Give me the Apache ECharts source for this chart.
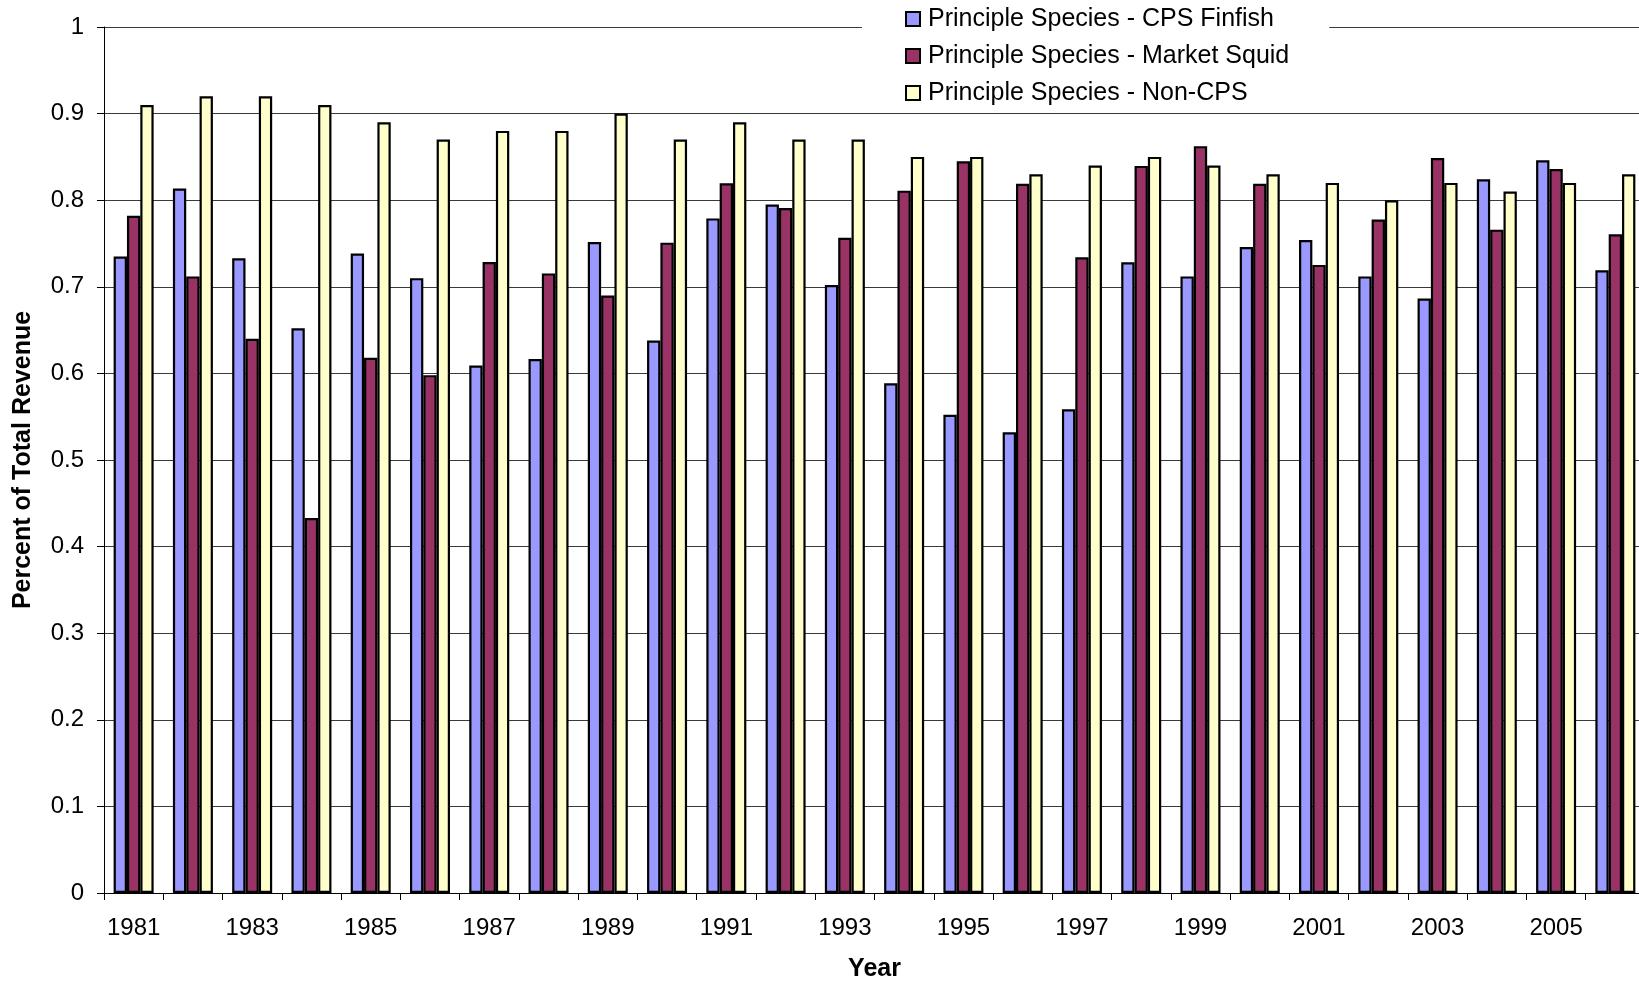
<!DOCTYPE html>
<html>
<head>
<meta charset="utf-8">
<script src="https://cdn.jsdelivr.net/npm/echarts@6/dist/echarts.min.js"></script>
<style>
html,body{margin:0;padding:0;background:#fff;}
#chart{width:1639px;height:983px;}
</style>
</head>
<body>
<div id="chart"></div>
<script>
const years = ['1981','1982','1983','1984','1985','1986','1987','1988','1989','1990','1991','1992','1993','1994','1995','1996','1997','1998','1999','2000','2001','2002','2003','2004','2005','2006'];
const cpsFinfish = [0.735, 0.8135, 0.733, 0.652, 0.7385, 0.710, 0.609, 0.6166, 0.7516, 0.638, 0.779, 0.795, 0.702, 0.5885, 0.5523, 0.5319, 0.5585, 0.7284, 0.712, 0.746, 0.754, 0.712, 0.6864, 0.8242, 0.8462, 0.719];
const marketSquid = [0.782, 0.712, 0.640, 0.433, 0.618, 0.598, 0.7285, 0.7155, 0.690, 0.751, 0.8196, 0.791, 0.7566, 0.811, 0.845, 0.819, 0.734, 0.8396, 0.8624, 0.819, 0.7253, 0.7776, 0.8488, 0.766, 0.8361, 0.7607];
const nonCps = [0.91, 0.92, 0.92, 0.91, 0.89, 0.87, 0.88, 0.88, 0.90, 0.87, 0.89, 0.87, 0.87, 0.85, 0.85, 0.83, 0.84, 0.85, 0.84, 0.83, 0.82, 0.80, 0.82, 0.81, 0.82, 0.83];
const seriesNames = ['Principle Species - CPS Finfish', 'Principle Species - Market Squid', 'Principle Species - Non-CPS'];

const FONT = '"Liberation Sans", Arial, sans-serif';
const chart = echarts.init(document.getElementById('chart'), null, {renderer: 'canvas'});
function bar(name, data, color) {
  return {
    name: name, type: 'bar', data: data,
    barGap: '0%', barCategoryGap: '32.5%',
    itemStyle: {color: color, borderColor: '#000', borderWidth: 2.2},
    animation: false
  };
}
chart.setOption({
  backgroundColor: '#fff',
  animation: false,
  textStyle: {fontFamily: FONT, color: '#000'},
  grid: {left: 104, top: 27, width: 1541, height: 866, containLabel: false, outerBoundsMode: 'none'},
  legend: {
    orient: 'vertical', left: 862, top: 4,
    backgroundColor: '#fff',
    padding: [2, 40, 2, 43],
    itemWidth: 14, itemHeight: 14, itemGap: 11,
    icon: 'rect',
    textStyle: {fontSize: 25, fontFamily: FONT, color: '#000', padding: [0, 0, 0, 3], lineHeight: 26},
    data: seriesNames
  },
  xAxis: {
    type: 'category', data: years,
    name: 'Year', nameLocation: 'middle', nameGap: 64,
    nameTextStyle: {fontSize: 25, fontWeight: 'bold', fontFamily: FONT, color: '#000'},
    axisLine: {lineStyle: {color: '#000', width: 1}},
    axisTick: {show: true, interval: 0, length: 7, inside: false, lineStyle: {color: '#000'}},
    axisLabel: {interval: 1, fontSize: 24, color: '#000', fontFamily: FONT, margin: 23},
    splitLine: {show: false}
  },
  yAxis: {
    type: 'value', min: 0, max: 1, interval: 0.1,
    name: 'Percent of Total Revenue', nameLocation: 'middle', nameRotate: 90, nameGap: 68,
    nameTextStyle: {fontSize: 25, fontWeight: 'bold', fontFamily: FONT, color: '#000'},
    axisLine: {show: true, lineStyle: {color: '#000', width: 1}},
    axisTick: {show: true, length: 7, lineStyle: {color: '#000'}},
    axisLabel: {fontSize: 24, color: '#000', fontFamily: FONT, margin: 20},
    splitLine: {show: true, lineStyle: {color: '#3a3a3a', width: 1}}
  },
  series: [
    bar(seriesNames[0], cpsFinfish, '#9999FF'),
    bar(seriesNames[1], marketSquid, '#993366'),
    bar(seriesNames[2], nonCps, '#FFFFCC')
  ]
});
</script>
</body>
</html>
